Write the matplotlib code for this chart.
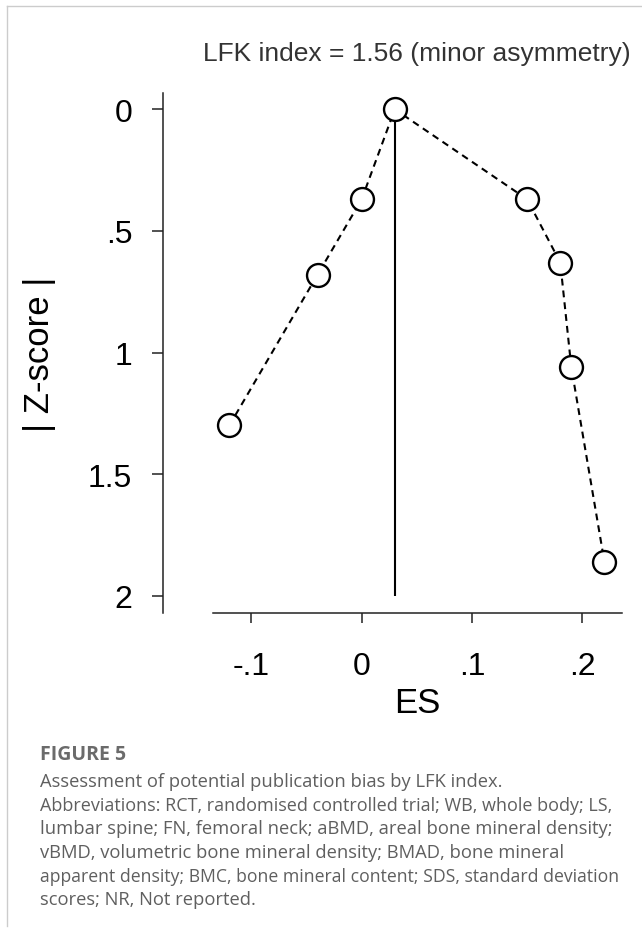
import matplotlib
matplotlib.use("Agg")
import matplotlib.pyplot as plt
from matplotlib.lines import Line2D

# ---- data ----
es = [-0.12, -0.04, 0.00, 0.03, 0.15, 0.18, 0.19, 0.22]
zscore = [1.30, 0.68, 0.37, 0.00, 0.37, 0.63, 1.06, 1.86]
mean_es = 0.03
xticks = [-0.1, 0.0, 0.1, 0.2]
xticklabels = ["-.1", "0", ".1", ".2"]
yticks = [0.0, 0.5, 1.0, 1.5, 2.0]
yticklabels = ["0", ".5", "1", "1.5", "2"]
title = "LFK index = 1.56 (minor asymmetry)"
xlabel = "ES"
ylabel = "| Z-score |"
fig_label = "FIGURE 5"
caption_lines = [
    "Assessment of potential publication bias by LFK index.",
    "Abbreviations: RCT, randomised controlled trial; WB, whole body; LS,",
    "lumbar spine; FN, femoral neck; aBMD, areal bone mineral density;",
    "vBMD, volumetric bone mineral density; BMAD, bone mineral",
    "apparent density; BMC, bone mineral content; SDS, standard deviation",
    "scores; NR, Not reported.",
]
# per-line font sizes (the reference text block is justified / tightened)
caption_sizes = [13.2, 13.0, 13.2, 13.2, 12.7, 13.2]

W, H = 642, 929
fig = plt.figure(figsize=(W / 100, H / 100), dpi=100)
fig.patch.set_facecolor("white")

def fx(px):
    return px / W

def fy(py):
    return 1 - py / H

# axes box in pixel coordinates
ax_l, ax_r, ax_t, ax_b = 162.7, 621.7, 94.0, 614.0
ax = fig.add_axes([fx(ax_l), fy(ax_b), (ax_r - ax_l) / W, (ax_b - ax_t) / H])
ax.set_facecolor("none")

ax.set_xlim(-0.1804, 0.2357)
ax.set_ylim(2.071, -0.067)

ax.vlines(mean_es, 0, 2, color="black", lw=1.5, zorder=2)
ax.plot(es, zscore, color="black", lw=1.5, ls=(0, (3.3, 2.4)),
        marker="o", ms=16.5, mfc="white", mec="black", mew=1.7,
        zorder=3, clip_on=False)

for s in ["top", "right"]:
    ax.spines[s].set_visible(False)
for s in ["left", "bottom"]:
    ax.spines[s].set_linewidth(1.1)
    ax.spines[s].set_color("#222222")
ax.spines["bottom"].set_bounds(-0.1349, 0.2357)

ax.set_xticks(xticks)
ax.set_xticklabels(xticklabels, family="Liberation Sans", fontsize=23)
ax.set_yticks(yticks)
ax.set_yticklabels(yticklabels, family="Liberation Sans", fontsize=23)
ax.tick_params(axis="x", direction="out", length=7.2, width=1.1, pad=20.5, color="#222222")
ax.tick_params(axis="y", direction="out", length=7.9, width=1.1, pad=14, color="#222222")

# title, axis labels
fig.text(fx(417), fy(61), title, ha="center", va="baseline",
         family="Liberation Sans", fontsize=19, color="#333333")
fig.text(fx(417), fy(713.3), xlabel, ha="center", va="baseline",
         family="Liberation Sans", fontsize=25, color="black")
fig.text(fx(40), fy(354), ylabel, ha="center", va="center", rotation=90,
         family="Liberation Sans", fontsize=25, color="black")

# caption
fig.text(fx(40), fy(760), fig_label, ha="left", va="baseline",
         family="Open Sans", fontweight="bold", fontsize=14, color="#6b6b6b")
for i, (line, fs) in enumerate(zip(caption_lines, caption_sizes)):
    fig.text(fx(40), fy(787 + 23.7 * i), line, ha="left", va="baseline",
             family="Open Sans", fontsize=fs, color="#5f5f5f")

# light frame at top and left
fig.add_artist(Line2D([fx(7.3), fx(642)], [fy(7.3), fy(7.3)], color="#cccccc", lw=1.0))
fig.add_artist(Line2D([fx(7.3), fx(7.3)], [fy(7.3), fy(927)], color="#cccccc", lw=1.0))

fig.savefig("out.png", dpi=100, facecolor="white")
